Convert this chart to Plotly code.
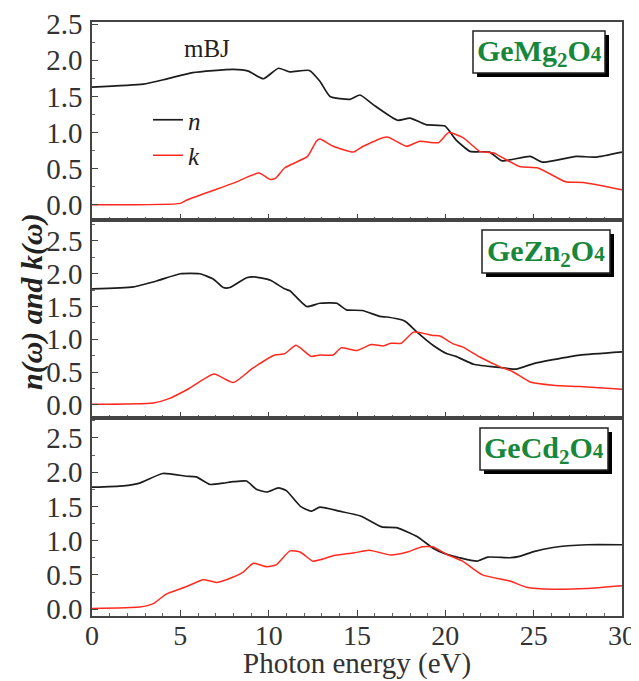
import plotly.graph_objects as go
from plotly.subplots import make_subplots

# ---- data ----
# GeMg2O4
mg_n_E = [0, 2.9, 4.2, 5.7, 8.0, 8.85, 9.7, 10.55, 11.2, 12.3, 12.9, 13.47, 14.6, 15.17, 15.9, 17.3, 18.0, 18.9, 19.98, 20.6, 21.4, 22.5, 23.2, 24.8, 25.5, 27.4, 28.5, 30]
mg_n = [1.63, 1.67, 1.74, 1.83, 1.875, 1.85, 1.745, 1.89, 1.84, 1.86, 1.71, 1.50, 1.46, 1.52, 1.39, 1.17, 1.20, 1.11, 1.09, 0.90, 0.74, 0.73, 0.61, 0.67, 0.59, 0.67, 0.66, 0.73]
mg_k_E = [0, 5.0, 5.4, 8.0, 9.45, 10.1, 10.4, 10.9, 12.2, 12.7, 12.9, 13.65, 14.8, 15.35, 16.7, 17.8, 18.55, 19.6, 20.2, 21.0, 21.95, 22.7, 24.2, 25.25, 26.8, 27.8, 30]
mg_k = [0.0, 0.02, 0.07, 0.30, 0.44, 0.35, 0.37, 0.51, 0.67, 0.88, 0.91, 0.81, 0.73, 0.81, 0.94, 0.81, 0.88, 0.86, 1.00, 0.93, 0.74, 0.72, 0.53, 0.51, 0.32, 0.31, 0.21]

# GeZn2O4
zn_n_E = [0, 2.34, 3.66, 5.0, 6.1, 6.86, 7.43, 7.8, 8.75, 9.3, 10.1, 10.9, 11.2, 12.15, 12.9, 13.85, 14.4, 15.3, 16.3, 16.7, 17.6, 17.8, 18.4, 19.3, 20.1, 20.6, 21.6, 23.1, 24.0, 25.0, 26.1, 27.6, 30]
zn_n = [1.77, 1.80, 1.89, 2.00, 2.00, 1.92, 1.79, 1.79, 1.94, 1.95, 1.90, 1.77, 1.74, 1.50, 1.55, 1.55, 1.45, 1.44, 1.35, 1.34, 1.29, 1.26, 1.11, 0.91, 0.78, 0.74, 0.62, 0.57, 0.545, 0.63, 0.69, 0.76, 0.81]
zn_k_E = [0, 3.47, 4.4, 5.5, 6.9, 8.0, 9.1, 10.35, 10.9, 11.55, 12.4, 12.9, 13.66, 14.1, 15.0, 15.8, 16.5, 16.9, 17.5, 18.2, 19.3, 19.7, 20.45, 21.0, 21.95, 23.1, 23.8, 24.8, 26.1, 27.6, 30]
zn_k = [0.01, 0.03, 0.10, 0.25, 0.47, 0.34, 0.56, 0.76, 0.78, 0.91, 0.74, 0.76, 0.76, 0.87, 0.83, 0.92, 0.90, 0.94, 0.94, 1.11, 1.06, 1.05, 0.93, 0.88, 0.73, 0.58, 0.51, 0.35, 0.30, 0.28, 0.24]

# GeCd2O4
cd_n_E = [0, 1.77, 2.7, 4.0, 5.36, 5.9, 6.68, 7.43, 8.0, 8.75, 9.3, 9.9, 10.55, 11.0, 11.8, 12.4, 12.9, 14.0, 15.2, 16.4, 17.24, 18.4, 19.3, 19.98, 20.8, 21.8, 22.4, 23.65, 24.2, 25.0, 26.1, 28.0, 30]
cd_n = [1.78, 1.80, 1.84, 1.98, 1.94, 1.93, 1.82, 1.84, 1.86, 1.87, 1.75, 1.71, 1.77, 1.73, 1.50, 1.43, 1.49, 1.43, 1.36, 1.20, 1.19, 1.06, 0.89, 0.81, 0.75, 0.70, 0.76, 0.75, 0.77, 0.84, 0.90, 0.94, 0.94]
cd_k_E = [0, 2.7, 3.47, 4.2, 5.36, 6.3, 7.06, 8.0, 8.56, 9.13, 9.9, 10.45, 11.2, 11.8, 12.5, 12.9, 13.66, 14.8, 15.7, 16.9, 17.8, 18.7, 19.3, 20.07, 20.97, 22.1, 23.65, 24.6, 26.1, 28.0, 30]
cd_k = [0.01, 0.03, 0.08, 0.22, 0.33, 0.43, 0.39, 0.47, 0.54, 0.67, 0.62, 0.65, 0.85, 0.83, 0.70, 0.72, 0.78, 0.82, 0.86, 0.79, 0.83, 0.91, 0.91, 0.80, 0.70, 0.50, 0.41, 0.32, 0.29, 0.30, 0.34]

panel_labels = ["GeMg<sub>2</sub>O<span style='font-size:21px'>4</span>",
                "GeZn<sub>2</sub>O<span style='font-size:21px'>4</span>",
                "GeCd<sub>2</sub>O<span style='font-size:21px'>4</span>"]
y_ranges = [[-0.21, 2.53], [-0.2, 2.82], [-0.1, 2.79]]
y_ticks = [0.0, 0.5, 1.0, 1.5, 2.0, 2.5]
x_ticks = [0, 5, 10, 15, 20, 25, 30]

BLACK = "#1c1c1c"
RED = "#ff2a1f"
GREEN = "#17873b"
FONT = "Liberation Serif"

# The page body has an 8px margin, so the figure is drawn 8px in from the window corner.
OFF = 8
W, H = 639 - OFF, 681 - OFF
# plot area in window pixels (as in the reference)
L, R, T, B = 92, 622, 22, 616
def px(x):
    return (x - L) / (R - L)
def py(y):
    return (B - y) / (B - T)

fig = make_subplots(rows=3, cols=1, shared_xaxes=True, vertical_spacing=0)

panels = [(mg_n_E, mg_n, mg_k_E, mg_k), (zn_n_E, zn_n, zn_k_E, zn_k), (cd_n_E, cd_n, cd_k_E, cd_k)]
for i, (nE, n, kE, k) in enumerate(panels):
    row = i + 1
    fig.add_trace(go.Scatter(x=nE, y=n, mode="lines", name="<i>n</i>",
                             line=dict(color=BLACK, width=1.7, shape="spline", smoothing=0.5),
                             showlegend=(i == 0), legendgroup="n"), row=row, col=1)
    fig.add_trace(go.Scatter(x=kE, y=k, mode="lines", name="<i>k</i>",
                             line=dict(color=RED, width=1.5, shape="spline", smoothing=0.5),
                             showlegend=(i == 0), legendgroup="k"), row=row, col=1)

domains = [[2/3, 1.0], [1/3, 2/3], [0.0, 1/3]]
for i in range(3):
    yname = "yaxis" if i == 0 else f"yaxis{i+1}"
    xname = "xaxis" if i == 0 else f"xaxis{i+1}"
    fig.layout[yname].update(
        domain=domains[i], range=y_ranges[i], tickvals=y_ticks, ticktext=[f"{v:.1f}" for v in y_ticks],
        ticks="inside", ticklen=6, tickwidth=1, tickcolor="#444",
        minor=dict(ticks="inside", ticklen=3, dtick=0.25, tick0=0, tickcolor="#666"),
        showline=True, linecolor="#444", linewidth=1.5, mirror=True, showgrid=False, zeroline=False,
        automargin=False, ticklabelstandoff=2,
        tickfont=dict(family=FONT, size=29, color="#333"))
    fig.layout[xname].update(
        range=[0, 30], tickvals=x_ticks, ticks="inside", ticklen=6, tickwidth=1, tickcolor="#444",
        minor=dict(ticks="inside", ticklen=3, dtick=1, tick0=0, tickcolor="#666"),
        showline=True, linecolor="#444", linewidth=1.5, mirror=True, showgrid=False, zeroline=False,
        automargin=False, ticklabelstandoff=-6,
        showticklabels=(i == 2), tickfont=dict(family=FONT, size=28, color="#333"))

shapes = []
annots = []
boxes = [(473, 31, 605, 73), (482, 230, 610, 273), (480, 428, 608, 470)]
for (x0, y0, x1, y1), lab in zip(boxes, panel_labels):
    shapes.append(dict(type="rect", xref="paper", yref="paper", x0=px(x0 + 4), x1=px(x1 + 4),
                       y0=py(y1 + 4), y1=py(y0 + 4), fillcolor="black", line=dict(width=0), layer="above"))
    shapes.append(dict(type="rect", xref="paper", yref="paper", x0=px(x0), x1=px(x1),
                       y0=py(y1), y1=py(y0), fillcolor="white", line=dict(color="#222", width=1.5), layer="above"))
    annots.append(dict(xref="paper", yref="paper", x=px((x0 + x1) / 2), y=py((y0 + y1) / 2 + 1),
                       xanchor="center", yanchor="middle", text=lab, showarrow=False,
                       font=dict(family=FONT, size=30, color=GREEN, weight="bold")))

annots.append(dict(xref="paper", yref="paper", x=px(207), y=py(49), xanchor="center", yanchor="middle",
                   text="mBJ", showarrow=False, font=dict(family=FONT, size=25, color="#222")))
annots.append(dict(xref="paper", yref="paper", x=px(32), y=py(302), xanchor="center", yanchor="middle",
                   text="<b><i>n(ω) and k(ω)</i></b>", textangle=-90, showarrow=False,
                   font=dict(family=FONT, size=30, color="#222")))
annots.append(dict(xref="paper", yref="paper", x=px(357), y=py(663), xanchor="center", yanchor="middle",
                   text="Photon energy (eV)", showarrow=False,
                   font=dict(family=FONT, size=29, color="#333")))

fig.update_layout(
    width=W, height=H,
    margin=dict(l=L - OFF, r=639 - R, t=T - OFF, b=681 - B),
    paper_bgcolor="white", plot_bgcolor="white",
    annotations=annots, shapes=shapes,
    legend=dict(x=px(148), y=py(97), xanchor="left", yanchor="top",
                bgcolor="rgba(0,0,0,0)", font=dict(family=FONT, size=25, color="#222"),
                itemwidth=30, tracegroupgap=0, traceorder="normal"),
)

fig.write_html("out.html")
